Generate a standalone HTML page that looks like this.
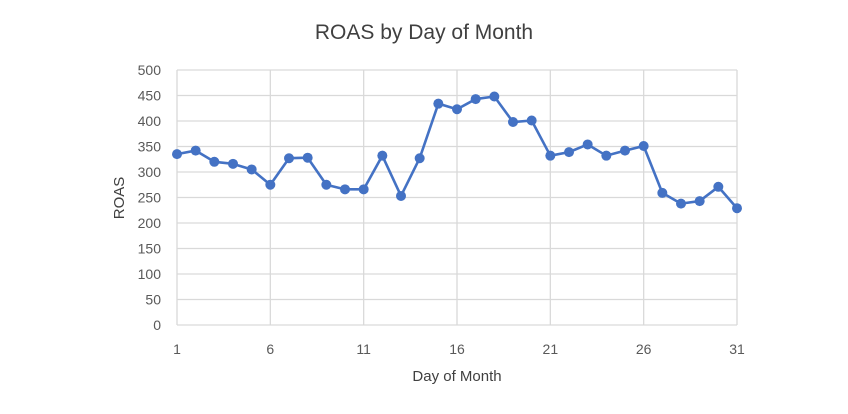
<!DOCTYPE html>
<html><head><meta charset="utf-8"><style>
body{margin:0;background:#fff;width:848px;height:409px;overflow:hidden;font-family:"Liberation Sans",Arial,sans-serif}
</style></head><body>
<svg width="848" height="409" id="chart">
<text x="424" y="39" text-anchor="middle" font-size="21" fill="#404040">ROAS by Day of Month</text>
<text x="457" y="381" text-anchor="middle" font-size="15" fill="#404040">Day of Month</text>
<text transform="translate(124,198) rotate(-90)" text-anchor="middle" font-size="15" fill="#404040">ROAS</text>
<g id="grid"></g><g id="series"></g>
</svg>
<script>
const days=[1,2,3,4,5,6,7,8,9,10,11,12,13,14,15,16,17,18,19,20,21,22,23,24,25,26,27,28,29,30,31];
const roas=[335,342,320,316,305,275,327,328,275,266,266,332,253,327,434,423,443,448,398,401,332,339,354,332,342,351,259,238,243,271,229];
const yTicks=[0,50,100,150,200,250,300,350,400,450,500];
const xTicks=[1,6,11,16,21,26,31];
const NS="http://www.w3.org/2000/svg";
const X0=177,X1=737,Y0=325,Y1=70;
const x=d=>X0+(d-1)/30*(X1-X0);
const y=v=>Y0-v/500*(Y0-Y1);
const grid=document.getElementById('grid'),ser=document.getElementById('series');
function mk(tag,at,p){const e=document.createElementNS(NS,tag);for(const k in at)e.setAttribute(k,at[k]);p.appendChild(e);return e;}
yTicks.forEach(t=>{
 const l=mk('line',{x1:X0,x2:X1,y1:y(t),y2:y(t),stroke:'#d9d9d9','stroke-width':1.3},grid);
 
 
 const tx=mk('text',{x:161,y:y(t)+5,'text-anchor':'end','font-size':14,fill:'#595959'},grid);
 tx.textContent=t;
 
 
});
xTicks.forEach(t=>{
 const l=mk('line',{x1:x(t),x2:x(t),y1:Y1,y2:Y0,stroke:'#d9d9d9','stroke-width':1.3},grid);
 
 
 const tx=mk('text',{x:x(t),y:354,'text-anchor':'middle','font-size':14,fill:'#595959'},grid);
 tx.textContent=t;
 
 
});
const pl=mk('polyline',{points:days.map((d,i)=>x(d)+','+y(roas[i])).join(' '),fill:'none',stroke:'#4472c4','stroke-width':2.6,'stroke-linejoin':'round'},ser);


days.forEach((d,i)=>{
 const c=mk('circle',{cx:x(d),cy:y(roas[i]),r:5,fill:'#4472c4'},ser);
 
 
});
</script>
</body></html>
